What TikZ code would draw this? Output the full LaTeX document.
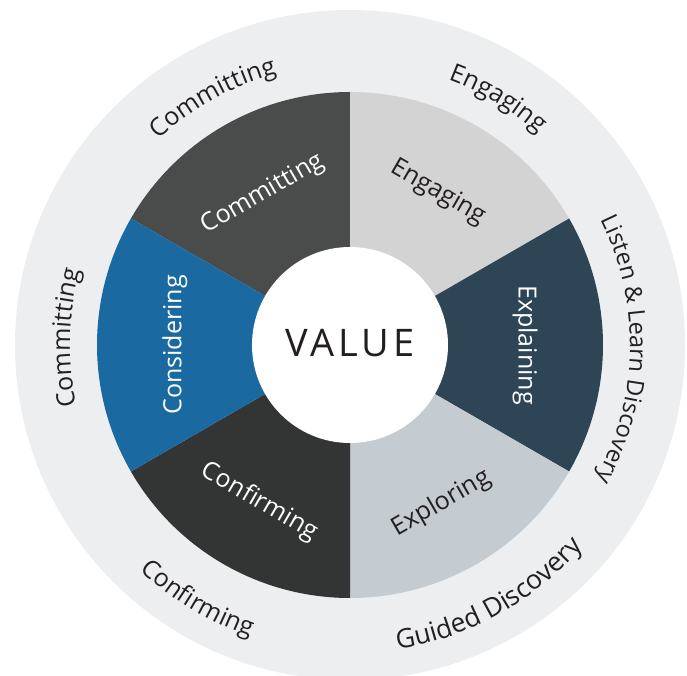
\documentclass[tikz,border=0pt]{standalone}
\usepackage{fontspec}
\setmainfont{Open Sans}
\usetikzlibrary{decorations.text}

\definecolor{ringgray}{HTML}{EDEEF0}
\definecolor{commitfill}{HTML}{4A4B4B}
\definecolor{engagefill}{HTML}{D3D3D3}
\definecolor{explainfill}{HTML}{2E4555}
\definecolor{explorefill}{HTML}{C4CBD1}
\definecolor{confirmfill}{HTML}{333434}
\definecolor{considerfill}{HTML}{1A6AA1}
\definecolor{inkdark}{HTML}{231F20}

\newcommand\ringfont{\fontsize{25}{30}\selectfont}

\tikzset{
  wedgelabel/.style={font=\ringfont, inner sep=0pt, anchor=center},
  % text set on an arc: #1 = size, #2 = text
  arclabel/.style 2 args={decorate, decoration={text along path, text align=center,
      text color=inkdark, text={|\fontsize{#1}{30}\selectfont|#2}}}
}

\begin{document}
\begin{tikzpicture}[x=1pt,y=1pt]
\useasboundingbox (-350,-331) rectangle (337,345);

% outer ring
\fill[ringgray] (0,0) circle (335);

% six wedges
\fill[commitfill]   (0,0) -- (90:253)  arc[start angle=90,  end angle=150, radius=253] -- cycle;
\fill[engagefill]   (0,0) -- (30:253)  arc[start angle=30,  end angle=90,  radius=253] -- cycle;
\fill[explainfill]  (0,0) -- (-30:253) arc[start angle=-30, end angle=30,  radius=253] -- cycle;
\fill[explorefill]  (0,0) -- (-90:253) arc[start angle=-90, end angle=-30, radius=253] -- cycle;
\fill[confirmfill]  (0,0) -- (210:253) arc[start angle=210, end angle=270, radius=253] -- cycle;
\fill[considerfill] (0,0) -- (150:253) arc[start angle=150, end angle=210, radius=253] -- cycle;

% hub
\fill[white] (0,0) circle (98);
\node[inner sep=0pt, text=inkdark] (value) at (0,2)
  {\fontsize{38}{44}\selectfont\addfontfeature{LetterSpace=10}VALUE};

% wedge labels
\node[wedgelabel, text=white,   rotate=30]  (lcommit)   at (120:174) {Committing};
\node[wedgelabel, text=inkdark, rotate=-30] (lengage)   at (60:176)  {Engaging};
\node[wedgelabel, text=white,   rotate=-90] (lexplain)  at (0:175)   {Explaining};
\node[wedgelabel, text=inkdark, rotate=30]  (lexplore)  at (-60:183) {Exploring};
\node[wedgelabel, text=white,   rotate=-30] (lconfirm)  at (-120:181) {Confirming};
\node[wedgelabel, text=white,   rotate=90]  (lconsider) at (180:175) {Considering};

% ring labels: clockwise arcs read outward, counter-clockwise arcs read inward
\path[arclabel={25}{Committing}] (164:281) arc[start angle=164, end angle=74, radius=281];
\path[arclabel={25}{Engaging}] (104:283) arc[start angle=104, end angle=14, radius=283];
\path[arclabel={23.5}{Listen {\&} Learn Discovery}] (49:280) arc[start angle=49, end angle=-51, radius=280];
\path[arclabel={25}{Committing}] (223.5:280) arc[start angle=223.5, end angle=133.5, radius=280];
\path[arclabel={25}{Confirming}] (-166:308) arc[start angle=-166, end angle=-76, radius=308];
\path[arclabel={26.5}{Guided Discovery}] (-106:308) arc[start angle=-106, end angle=-16, radius=308];
\end{tikzpicture}
\end{document}
